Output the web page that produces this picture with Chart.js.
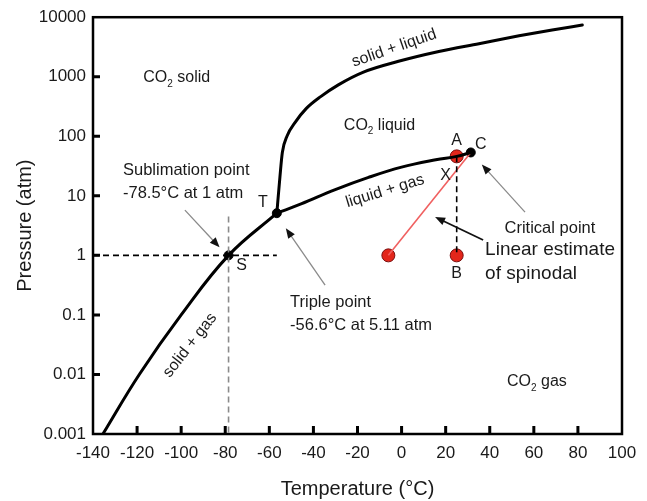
<!DOCTYPE html>
<html>
<head>
<meta charset="utf-8">
<title>CO2 phase diagram</title>
<script src="https://cdn.jsdelivr.net/npm/chart.js@4.4.0/dist/chart.umd.min.js"></script>
<style>
  body { margin: 0; background: #fff; }
  #wrap { width: 647px; height: 501px; }
</style>
</head>
<body>
<div id="wrap"><canvas id="phase" width="647" height="501"></canvas></div>
<script>
// axis ticks
var xTicks = [-140, -120, -100, -80, -60, -40, -20, 0, 20, 40, 60, 80, 100];
var yTicks = [0.001, 0.01, 0.1, 1, 10, 100, 1000, 10000];
var yTickLabels = ['0.001', '0.01', '0.1', '1', '10', '100', '1000', '10000'];

// phase boundaries (°C, atm)
var sublimT = [-135.5, -119, -100, -78.5, -56.6];
var sublimP = [0.001, 0.01, 0.1, 1, 5.11];
var vapT = [-56.6, -45.6, -30.1, -15, 0, 15.5, 25, 31.4];
var vapP = [5.11, 7.3, 12.7, 20.4, 30.3, 40.3, 46, 53.5];
var meltT = [-56.6, -55.2, -54.1, -51.9, -48.2, -43.2, -36.7, -28.7, -17.3, -1.4, 16.9, 35.1, 53.3, 68.3, 82];
var meltP = [5.11, 20.7, 53.5, 102, 173, 294, 464, 731, 1197, 1816, 2655, 3594, 4868, 6110, 7380];

// marked points
var sublimPt = [-78.5, 1];
var triplePt = [-56.6, 5.11];
var criticalPt = [31.4, 53.5];
var pointA = [25, 46];
var pointB = [25, 1];
var spinodalStart = [-6, 1];

var FONT = '"Liberation Sans", Arial, Helvetica, sans-serif';
var INK = '#1a1a1a';

function pts(xs, ys) {
  return xs.map(function (x, i) { return { x: x, y: ys[i] }; });
}
function pt(p) { return { x: p[0], y: p[1] }; }

function curve(data, mode) {
  return {
    data: data, borderColor: '#000', borderWidth: 3, pointRadius: 0,
    tension: 0.4, cubicInterpolationMode: mode || 'default',
    borderCapStyle: 'round', borderJoinStyle: 'round'
  };
}

function text(ctx, s, x, y, size, align, angle) {
  ctx.save();
  ctx.translate(x, y);
  if (angle) ctx.rotate(angle * Math.PI / 180);
  ctx.font = size + 'px ' + FONT;
  ctx.fillStyle = INK;
  ctx.textAlign = align || 'center';
  ctx.textBaseline = 'middle';
  ctx.fillText(s, 0, 0);
  ctx.restore();
}

// "CO" + subscript 2 + rest, centred on x
function co2(ctx, rest, x, y, size) {
  ctx.save();
  ctx.font = size + 'px ' + FONT;
  var w1 = ctx.measureText('CO').width;
  var w3 = ctx.measureText(rest).width;
  ctx.font = Math.round(size * 0.62) + 'px ' + FONT;
  var w2 = ctx.measureText('2').width;
  var x0 = x - (w1 + w2 + w3) / 2;
  ctx.fillStyle = INK;
  ctx.textAlign = 'left';
  ctx.textBaseline = 'middle';
  ctx.font = size + 'px ' + FONT;
  ctx.fillText('CO', x0, y);
  ctx.font = Math.round(size * 0.62) + 'px ' + FONT;
  ctx.fillText('2', x0 + w1, y + size * 0.38);
  ctx.font = size + 'px ' + FONT;
  ctx.fillText(rest, x0 + w1 + w2, y);
  ctx.restore();
}

function arrow(ctx, x1, y1, x2, y2, lineColor, lineWidth) {
  var a = Math.atan2(y2 - y1, x2 - x1);
  var len = 10, half = 4;
  ctx.save();
  ctx.strokeStyle = lineColor;
  ctx.lineWidth = lineWidth;
  ctx.beginPath();
  ctx.moveTo(x1, y1);
  ctx.lineTo(x2 - Math.cos(a) * len * 0.8, y2 - Math.sin(a) * len * 0.8);
  ctx.stroke();
  ctx.fillStyle = '#111';
  ctx.beginPath();
  ctx.moveTo(x2, y2);
  ctx.lineTo(x2 - Math.cos(a) * len - Math.sin(a) * half, y2 - Math.sin(a) * len + Math.cos(a) * half);
  ctx.lineTo(x2 - Math.cos(a) * len + Math.sin(a) * half, y2 - Math.sin(a) * len - Math.cos(a) * half);
  ctx.closePath();
  ctx.fill();
  ctx.restore();
}

var phaseLabels = {
  id: 'phaseLabels',
  afterDatasetsDraw: function (chart) {
    var ctx = chart.ctx, a = chart.chartArea;
    var xs = chart.scales.x, ys = chart.scales.y;
    function at(t, p) { return [xs.getPixelForValue(t), ys.getPixelForValue(p)]; }

    // frame and inward ticks
    ctx.save();
    ctx.strokeStyle = '#000';
    ctx.lineWidth = 2.5;
    ctx.strokeRect(a.left, a.top, a.right - a.left, a.bottom - a.top);
    ctx.lineWidth = 3;
    ctx.beginPath();
    yTicks.slice(1, -1).forEach(function (v) {
      var y = ys.getPixelForValue(v);
      ctx.moveTo(a.left, y); ctx.lineTo(a.left + 7, y);
    });
    xTicks.slice(1, -1).forEach(function (v) {
      var x = xs.getPixelForValue(v);
      ctx.moveTo(x, a.bottom); ctx.lineTo(x, a.bottom - 8);
    });
    ctx.stroke();
    ctx.restore();

    // region names
    var p = at(-102, 950); co2(ctx, ' solid', p[0], p[1], 16);
    p = at(-10, 154); co2(ctx, ' liquid', p[0], p[1], 16);
    p = at(61.4, 0.0075); co2(ctx, ' gas', p[0], p[1], 16);
    p = at(-3.4, 3020); text(ctx, 'solid + liquid', p[0], p[1], 16, 'center', -19);
    p = at(-7.5, 12); text(ctx, 'liquid + gas', p[0], p[1], 16, 'center', -17);
    p = at(-96, 0.031); text(ctx, 'solid + gas', p[0], p[1], 16, 'center', -52);

    // point letters
    var s = at(sublimPt[0], sublimPt[1]);
    var t = at(triplePt[0], triplePt[1]);
    var c = at(criticalPt[0], criticalPt[1]);
    var pa = at(pointA[0], pointA[1]);
    var pb = at(pointB[0], pointB[1]);
    text(ctx, 'S', s[0] + 13, s[1] + 10, 16);
    text(ctx, 'T', t[0] - 14, t[1] - 11, 16);
    text(ctx, 'C', c[0] + 10, c[1] - 8, 16);
    text(ctx, 'A', pa[0], pa[1] - 16, 16);
    text(ctx, 'X', pa[0] - 11, pa[1] + 19, 16);
    text(ctx, 'B', pb[0], pb[1] + 18, 16);

    // callouts
    p = at(-126.4, 27); text(ctx, 'Sublimation point', p[0], p[1], 16.5, 'left');
    p = at(-126.4, 11.1); text(ctx, '-78.5°C at 1 atm', p[0], p[1], 16.5, 'left');
    p = at(-98.3, 5.75); arrow(ctx, p[0], p[1], s[0] - 9, s[1] - 8, '#8a8a8a', 1.3);

    p = at(-50.6, 0.164); text(ctx, 'Triple point', p[0], p[1], 16.5, 'left');
    p = at(-50.6, 0.0676); text(ctx, '-56.6°C at 5.11 atm', p[0], p[1], 16.5, 'left');
    p = at(-34.7, 0.317); arrow(ctx, p[0], p[1], t[0] + 9, t[1] + 15, '#8a8a8a', 1.3);

    p = at(67.3, 2.87); text(ctx, 'Critical point', p[0], p[1], 16.5, 'center');
    p = at(56, 5.33); arrow(ctx, p[0], p[1], c[0] + 11, c[1] + 12, '#8a8a8a', 1.3);

    p = at(37.9, 1.23); text(ctx, 'Linear estimate', p[0], p[1], 19, 'left');
    p = at(37.9, 0.485); text(ctx, 'of spinodal', p[0], p[1], 19, 'left');
    var tail = at(37, 1.81), head = at(15.2, 4.4);
    arrow(ctx, tail[0], tail[1], head[0], head[1], '#111', 1.8);
  }
};

new Chart(document.getElementById('phase'), {
  type: 'line',
  data: {
    datasets: [
      curve(pts(sublimT, sublimP)),
      curve(pts(vapT, vapP)),
      curve(pts(meltT, meltP), 'monotone'),
      { data: [{ x: -140, y: 1 }, { x: triplePt[0], y: 1 }], borderColor: '#000', borderWidth: 1.8, borderDash: [6, 4], pointRadius: 0 },
      { data: [{ x: sublimPt[0], y: 4.5 }, { x: sublimPt[0], y: 0.001 }], borderColor: '#8a8a8a', borderWidth: 1.6, borderDash: [6, 4], pointRadius: 0 },
      { data: [pt(pointA), pt(pointB)], borderColor: '#000', borderWidth: 1.6, borderDash: [6, 4], pointRadius: 0 },
      { data: [pt(spinodalStart), pt(criticalPt)], borderColor: '#f06060', borderWidth: 1.6, pointRadius: 0 },
      { data: [pt(sublimPt), pt(triplePt), pt(criticalPt)], showLine: false, pointRadius: 4.5,
        pointBackgroundColor: '#000', pointBorderColor: '#000', pointBorderWidth: 1 },
      { data: [pt(pointA), pt(pointB), pt(spinodalStart)], showLine: false, pointRadius: 6.5,
        pointBackgroundColor: '#e3261b', pointBorderColor: '#7a1010', pointBorderWidth: 1 }
    ]
  },
  options: {
    responsive: false,
    animation: false,
    layout: { padding: { top: 17, right: 25, left: 0, bottom: 0 } },
    plugins: { legend: { display: false }, tooltip: { enabled: false } },
    scales: {
      x: {
        type: 'linear', min: -140, max: 100,
        afterBuildTicks: function (sc) { sc.ticks = xTicks.map(function (v) { return { value: v }; }); },
        afterFit: function (sc) { sc.height = 67; },
        grid: { display: false, drawTicks: false },
        border: { display: false },
        ticks: { font: { size: 17, family: FONT }, color: INK, padding: 9, maxRotation: 0, autoSkip: false },
        title: { display: true, text: 'Temperature (°C)', color: INK, font: { size: 20, family: FONT }, padding: { top: 0, bottom: 0 } }
      },
      y: {
        type: 'logarithmic', min: 0.001, max: 10000,
        afterBuildTicks: function (sc) { sc.ticks = yTicks.map(function (v) { return { value: v }; }); },
        afterFit: function (sc) { sc.width = 93; },
        grid: { display: false, drawTicks: false },
        border: { display: false },
        ticks: {
          font: { size: 17, family: FONT }, color: INK, padding: 7, autoSkip: false,
          callback: function (v, i) { return yTickLabels[i]; }
        },
        title: { display: true, text: 'Pressure (atm)', color: INK, font: { size: 20, family: FONT }, padding: { top: 13, bottom: 0 } }
      }
    }
  },
  plugins: [phaseLabels]
});
</script>
</body>
</html>
